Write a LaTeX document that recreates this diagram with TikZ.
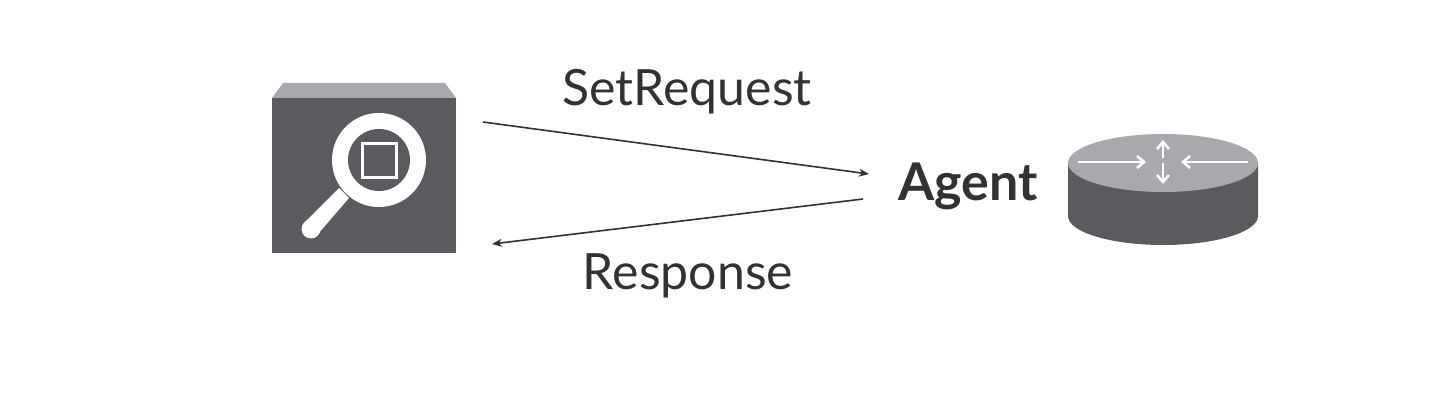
\documentclass[tikz,border=0pt]{standalone}
\usepackage{fontspec}
\setmainfont{Lato}
\usetikzlibrary{arrows.meta}
\definecolor{darkg}{RGB}{90,91,94}
\definecolor{lightg}{RGB}{167,169,172}
\definecolor{ink}{RGB}{50,50,52}
\tikzset{
  x=1pt,y=-1pt,
  lbl/.style={text=ink,inner sep=0pt,font=\fontsize{50}{54}\selectfont},
  msg/.style={draw=ink,line width=1.6pt,-{Stealth[length=10pt,width=8pt]}},
  whitearrow/.style={draw=white,line width=2.6pt,-{Straight Barb[length=7pt,width=12pt,line width=2.6pt]}}
}
\begin{document}
\begin{tikzpicture}
\useasboundingbox (0,0) rectangle (1435,414);
\fill[white] (0,0) rectangle (1435,414);
% manager box
\fill[lightg] (283,83) -- (445,83) -- (456,98) -- (272,98) -- cycle;
\fill[darkg] (272,98) rectangle (456,253);
\fill[white] (379,160) circle (47);
\fill[white] (339,188) -- (349,198) -- (318,234) -- (305,222) -- cycle;
\fill[white] (311,229) circle (9.5);
\fill[darkg] (379,160) circle (31);
\draw[white,line width=3.5pt] (362.5,143.5) rectangle (396.5,177.5);
% router
\fill[darkg] (1068,163) -- (1068,216) arc[start angle=180,end angle=360,x radius=95,y radius=-29] -- (1258,163) -- cycle;
\fill[lightg] (1163,163) ellipse[x radius=95,y radius=29];
\coordinate (rl0) at (1078,162); \coordinate (rl1) at (1146,162);
\coordinate (rr0) at (1248,162); \coordinate (rr1) at (1181,162);
\coordinate (ru0) at (1163,158); \coordinate (ru1) at (1163,140);
\coordinate (rd0) at (1163,163); \coordinate (rd1) at (1163,184);
\draw[whitearrow] (rl0) -- (rl1);
\draw[whitearrow] (rr0) -- (rr1);
\draw[whitearrow] (ru0) -- (ru1);
\draw[whitearrow] (rd0) -- (rd1);
% labels
\node[lbl] (setreq) at (687,92) {SetRequest};
\node[lbl] (resp) at (688,276) {Response};
\node[lbl,font=\fontsize{52}{56}\selectfont\bfseries] (agent) at (968,186) {Agent};
% connectors
\coordinate (a0) at (483,122); \coordinate (a1) at (869,174);
\coordinate (b0) at (863,199); \coordinate (b1) at (492,244);
\draw[msg] (a0) -- (a1);
\draw[msg] (b0) -- (b1);
\end{tikzpicture}
\end{document}
